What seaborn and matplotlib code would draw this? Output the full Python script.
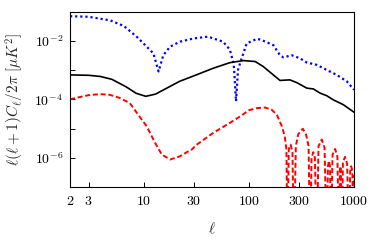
import matplotlib
matplotlib.use("Agg")
import matplotlib.pyplot as plt
import numpy as np
import pandas as pd
import seaborn as sns
from matplotlib.ticker import FixedLocator, FixedFormatter, NullLocator, NullFormatter

# multipole values and spectra
ell_tt = [2, 3, 3.9, 5, 6.9, 8.5, 10.5, 13, 17, 22, 30, 46, 66, 89, 115, 137,
          171, 198, 246, 286, 356, 411, 476, 551, 637, 793, 1000]
cl_tt = [6.8e-4, 6.6e-4, 6.0e-4, 4.8e-4, 2.6e-4, 1.6e-4, 1.26e-4, 1.5e-4, 2.5e-4,
         4.1e-4, 6.3e-4, 1.15e-3, 1.78e-3, 2.1e-3, 1.95e-3, 1.32e-3, 6.8e-4,
         4.4e-4, 4.6e-4, 3.7e-4, 2.4e-4, 2.25e-4, 1.62e-4, 1.32e-4, 9.5e-5,
         6.5e-5, 3.6e-5]

ell_blue = [2, 3, 4.8, 6.5, 8.6, 10.7, 12.4, 13.9, 15.4, 17.9, 22.2, 30, 41, 57,
            66, 72, 75.7, 79, 82.6, 95.5, 120, 133, 171, 198, 213, 256, 307, 356,
            443, 551, 686, 854, 1000]
cl_blue = [6.9e-2, 6.6e-2, 5.0e-2, 3.2e-2, 1.38e-2, 6.3e-3, 3.7e-3, 8.9e-4,
           3.2e-3, 6.3e-3, 9.3e-3, 1.2e-2, 1.38e-2, 9.3e-3, 5.0e-3, 1.6e-3,
           8.5e-5, 1.0e-3, 1.7e-3, 8.1e-3, 1.17e-2, 1.05e-2, 7.1e-3, 3.2e-3,
           2.7e-3, 3.2e-3, 2.5e-3, 1.8e-3, 1.5e-3, 1.0e-3, 6.8e-4, 4.1e-4, 2.1e-4]

ell_red = [2, 3, 3.86, 4.8, 5.9, 7.4, 8.9, 10.7, 12.9, 14.9, 17.9, 22.2, 26,
           28.7, 32, 46, 66, 83, 100, 120, 143, 165, 185, 206, 220, 228, 233,
           240, 250, 260, 269, 280, 295, 326, 350, 370, 383, 395, 410, 425, 443,
           460, 494, 525, 551, 565, 578, 592, 605, 625, 661, 695, 721, 735, 743,
           752, 765, 785, 822, 860, 898, 920, 940, 965, 986, 1000]
cl_red = [1.0e-4, 1.38e-4, 1.5e-4, 1.41e-4, 1.12e-4, 7.4e-5, 2.95e-5, 1.2e-5,
          3.2e-6, 1.29e-6, 8.7e-7, 1.12e-6, 1.58e-6, 1.9e-6, 2.8e-6, 7.1e-6,
          1.55e-5, 2.6e-5, 4.2e-5, 5.0e-5, 5.2e-5, 4.4e-5, 2.95e-5, 1.2e-5,
          5.4e-6, 1.9e-6, 1e-9, 2.0e-6, 2.8e-6, 1.6e-6, 1e-9, 2.5e-6, 6.3e-6,
          9.8e-6, 6.3e-6, 2.5e-6, 1e-9, 1.0e-6, 1.55e-6, 1.0e-6, 1e-9, 2.5e-6,
          4.2e-6, 2.2e-6, 1e-9, 5.0e-7, 7.8e-7, 5.0e-7, 1e-9, 1.26e-6, 2.0e-6,
          1.12e-6, 1e-9, 3.5e-7, 5.1e-7, 3.5e-7, 1e-9, 7.1e-7, 1.07e-6, 6.3e-7,
          1e-9, 3.5e-7, 5.1e-7, 3.5e-7, 1e-9, 2.5e-7]

x_ticks = [2, 3, 10, 30, 100, 300, 1000]
x_labels = [r"$2$", r"$3$", r"$10$", r"$30$", r"$100$", r"$300$", r"$1000$"]
y_major = [1e-6, 1e-4, 1e-2]
y_labels = [r"$10^{-6}$", r"$10^{-4}$", r"$10^{-2}$"]
y_minor = [1e-5, 1e-3]

sns.set_theme(style="ticks")
plt.rcParams["mathtext.fontset"] = "cm"
plt.rcParams["font.family"] = ["DejaVu Serif"]

fig = plt.figure(figsize=(3.74, 2.46), dpi=100, facecolor="white")
ax = fig.add_axes([70 / 374, 1 - 187 / 246, 284 / 374, 175.5 / 246])

df_tt = pd.DataFrame({"ell": ell_tt, "cl": cl_tt})
df_blue = pd.DataFrame({"ell": ell_blue, "cl": cl_blue})
df_red = pd.DataFrame({"ell": ell_red, "cl": cl_red})

sns.lineplot(data=df_blue, x="ell", y="cl", ax=ax, color="#0000ff", lw=1.6,
             linestyle=(0, (1.0, 1.3)), sort=False, estimator=None)
sns.lineplot(data=df_tt, x="ell", y="cl", ax=ax, color="black", lw=1.2,
             sort=False, estimator=None)
sns.lineplot(data=df_red, x="ell", y="cl", ax=ax, color="#ff0000", lw=1.4,
             linestyle=(0, (2.6, 1.4)), sort=False, estimator=None)

ax.set_xscale("log")
ax.set_yscale("log")
ax.set_xlim(2, 1000)
ax.set_ylim(1e-7, 1e-1)

ax.xaxis.set_major_locator(FixedLocator(x_ticks))
ax.xaxis.set_major_formatter(FixedFormatter(x_labels))
ax.xaxis.set_minor_locator(NullLocator())
ax.xaxis.set_minor_formatter(NullFormatter())
ax.yaxis.set_major_locator(FixedLocator(y_major))
ax.yaxis.set_major_formatter(FixedFormatter(y_labels))
ax.yaxis.set_minor_locator(FixedLocator(y_minor))
ax.yaxis.set_minor_formatter(NullFormatter())

ax.tick_params(which="both", direction="in", length=3.5, width=0.7,
               labelsize=10, colors="black", pad=5)
for side in ["top", "right", "left", "bottom"]:
    ax.spines[side].set_visible(True)
    ax.spines[side].set_linewidth(0.8)
    ax.spines[side].set_color("black")

ax.set_xlabel(r"$\ell$", fontsize=11, labelpad=9)
ax.set_ylabel(r"$\ell(\ell+1)C_\ell/2\pi\ [\mu K^2]$", fontsize=11, labelpad=6)

fig.savefig("out.png", dpi=100, facecolor="white")
